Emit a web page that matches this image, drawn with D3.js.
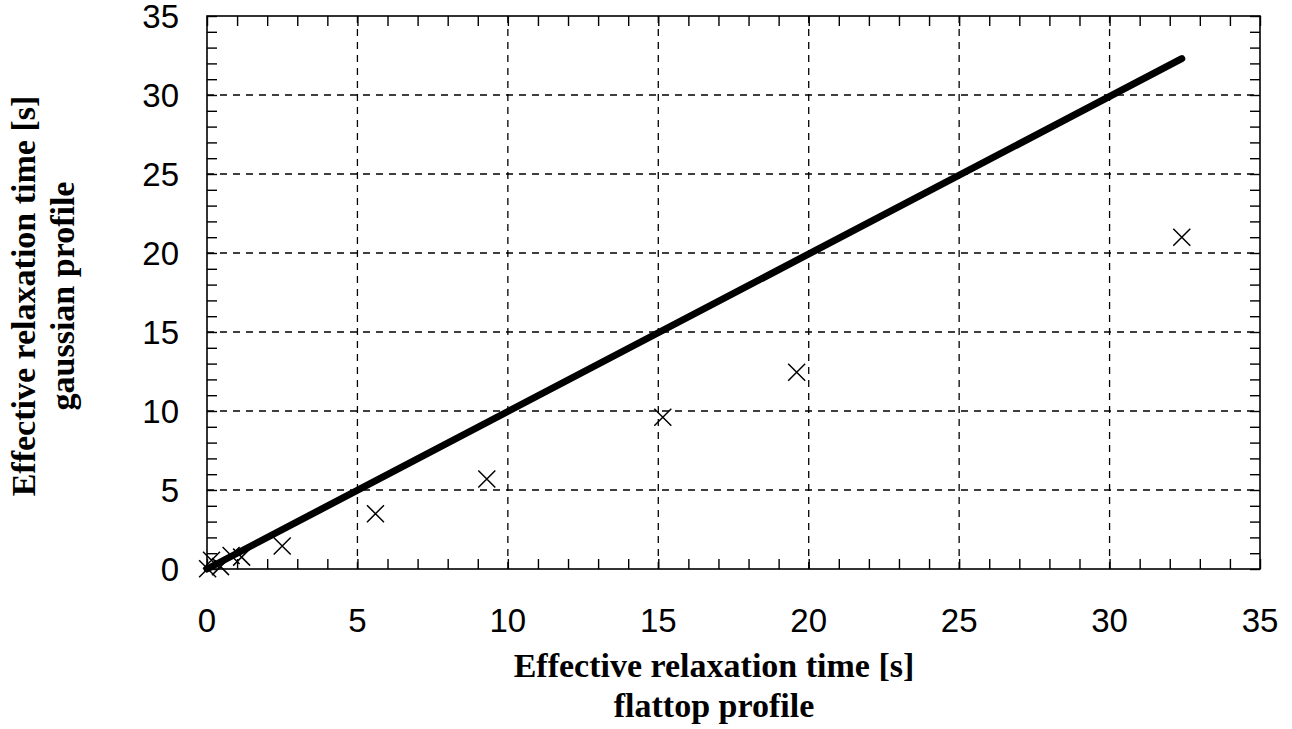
<!DOCTYPE html>
<html lang="en">
<head>
  <meta charset="UTF-8" />
  <title>Effective relaxation time: gaussian vs flattop</title>
  <script src="https://d3js.org/d3.v7.min.js"></script>
  <style>
    body { margin: 0; background: white; }
    svg { display: block; }
    .ticklabel { font-family: "Liberation Sans", Arial, sans-serif; font-size: 33px; fill: #000; }
    .title { font-family: "Liberation Serif", serif; font-weight: bold; font-size: 34px; fill: #000; }
  </style>
</head>
<body>
  <svg id="chart" width="1292" height="729"></svg>
  <script>
    // tick values for both axes
    const xTicks = [0, 5, 10, 15, 20, 25, 30, 35];
    const yTicks = [0, 5, 10, 15, 20, 25, 30, 35];

    // measured points (x = flattop, y = gaussian)
    const flattop  = [0.02, 0.15, 0.45, 0.8, 1.15, 2.5, 5.6, 9.3, 15.15, 19.6, 32.4];
    const gaussian = [0.02, 0.55, 0.15, 0.85, 0.75, 1.45, 3.5, 5.7, 9.6, 12.45, 21.0];

    // reference line y = x
    const lineX = [0, 32.4];
    const lineY = [0, 32.3];

    const svg = d3.select("#chart");
    const plotL = 207, plotR = 1260, plotT = 16, plotB = 569;

    const x = d3.scaleLinear().domain([0, 35]).range([plotL, plotR]);
    const y = d3.scaleLinear().domain([0, 35]).range([plotB, plotT]);
    const minor = d3.range(0, 36);

    // dashed grid at the major values
    const grid = svg.append("g")
      .attr("stroke", "#000")
      .attr("stroke-width", 1.3)
      .attr("stroke-dasharray", "7,6");
    grid.selectAll(".vg").data(xTicks.slice(1, -1)).enter().append("line")
      .attr("x1", d => x(d)).attr("x2", d => x(d))
      .attr("y1", plotT).attr("y2", plotB);
    grid.selectAll(".hg").data(yTicks.slice(1, -1)).enter().append("line")
      .attr("y1", d => y(d)).attr("y2", d => y(d))
      .attr("x1", plotL).attr("x2", plotR);

    // minor ticks on all four sides, pointing inward
    function inward(axis) {
      return axis.tickValues(minor).tickSize(-10).tickFormat("");
    }
    const tickGroups = [
      svg.append("g").attr("transform", `translate(0,${plotB})`).call(inward(d3.axisBottom(x))),
      svg.append("g").attr("transform", `translate(0,${plotT})`).call(inward(d3.axisTop(x))),
      svg.append("g").attr("transform", `translate(${plotL},0)`).call(inward(d3.axisLeft(y))),
      svg.append("g").attr("transform", `translate(${plotR},0)`).call(inward(d3.axisRight(y)))
    ];
    tickGroups.forEach(g => {
      g.select(".domain").remove();
      g.selectAll("line").attr("stroke", "#000").attr("stroke-width", 1.4);
    });

    // frame
    svg.append("rect")
      .attr("x", plotL).attr("y", plotT)
      .attr("width", plotR - plotL).attr("height", plotB - plotT)
      .attr("fill", "none").attr("stroke", "#000").attr("stroke-width", 1.6);

    // tick labels
    svg.append("g").selectAll("text").data(xTicks).enter().append("text")
      .attr("class", "ticklabel")
      .attr("x", d => x(d)).attr("y", 632)
      .attr("text-anchor", "middle")
      .text(d => d);
    svg.append("g").selectAll("text").data(yTicks).enter().append("text")
      .attr("class", "ticklabel")
      .attr("x", 179).attr("y", d => y(d))
      .attr("dy", "0.36em")
      .attr("text-anchor", "end")
      .text(d => d);

    // reference line
    const pts = lineX.map((v, i) => [v, lineY[i]]);
    svg.append("path")
      .attr("d", d3.line().x(d => x(d[0])).y(d => y(d[1]))(pts))
      .attr("fill", "none")
      .attr("stroke", "#000")
      .attr("stroke-width", 7)
      .attr("stroke-linecap", "round");

    // cross markers
    const s = 8.5;
    const data = flattop.map((v, i) => ({ fx: v, gy: gaussian[i] }));
    svg.append("g").selectAll("path").data(data).enter().append("path")
      .attr("d", d => {
        const cx = x(d.fx), cy = y(d.gy);
        return `M${cx - s},${cy - s}L${cx + s},${cy + s}M${cx - s},${cy + s}L${cx + s},${cy - s}`;
      })
      .attr("stroke", "#000")
      .attr("stroke-width", 1.5)
      .attr("fill", "none");

    // axis titles
    const titleX = 714;
    svg.append("text").attr("class", "title")
      .attr("x", titleX).attr("y", 677).attr("text-anchor", "middle")
      .text("Effective relaxation time [s]");
    svg.append("text").attr("class", "title")
      .attr("x", titleX).attr("y", 717).attr("text-anchor", "middle")
      .text("flattop profile");

    const titleY = 296;
    svg.append("text").attr("class", "title")
      .attr("transform", `translate(35,${titleY}) rotate(-90)`)
      .attr("text-anchor", "middle")
      .text("Effective relaxation time [s]");
    svg.append("text").attr("class", "title")
      .attr("transform", `translate(74,${titleY}) rotate(-90)`)
      .attr("text-anchor", "middle")
      .text("gaussian profile");
  </script>
</body>
</html>
